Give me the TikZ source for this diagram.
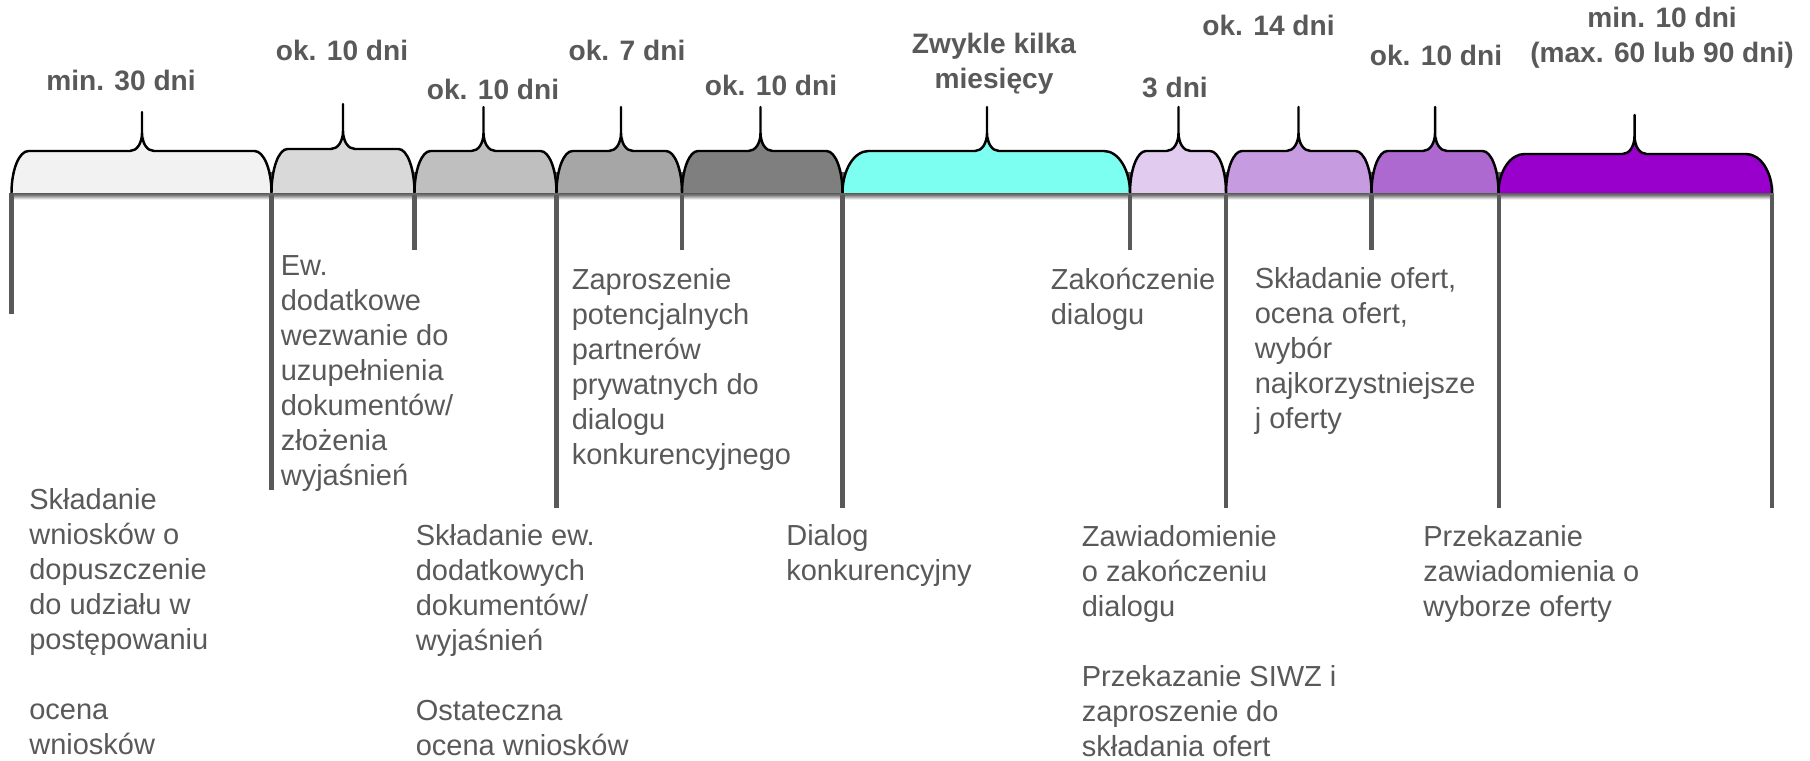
\documentclass[tikz,border=0pt]{standalone}
\usepackage{fontspec}
\setmainfont{Liberation Sans}
\usetikzlibrary{shadows}
\definecolor{text-gray}{HTML}{595959}
\definecolor{phase-1}{HTML}{F2F2F2}
\definecolor{phase-2}{HTML}{D9D9D9}
\definecolor{phase-3}{HTML}{BFBFBF}
\definecolor{phase-4}{HTML}{A6A6A6}
\definecolor{phase-5}{HTML}{7F7F7F}
\definecolor{phase-6}{HTML}{7CFFF0}
\definecolor{phase-7}{HTML}{E1CCEF}
\definecolor{phase-8}{HTML}{C79BDF}
\definecolor{phase-9}{HTML}{AD69CF}
\definecolor{phase-10}{HTML}{9900CC}

% brace box: fill, left, tip, right, top, peak, corner
\newcommand{\phase}[7]{%
  \path[phasebox, fill=#1] (#2,-3.86)
    .. controls (#2,{-3.86+0.552*((#5)+3.86)}) and ({#2+0.448*#7},#5) .. ({#2+#7},#5)
    -- ({#3-0.24},#5)
    .. controls ({#3-0.10},#5) and (#3,{(#5)+0.16}) .. (#3,{(#5)+0.36})
    -- (#3,#6) -- (#3,{(#5)+0.36})
    .. controls (#3,{(#5)+0.16}) and ({#3+0.10},#5) .. ({#3+0.24},#5)
    -- ({#4-#7},#5)
    .. controls ({#4-0.448*#7},#5) and (#4,{-3.86+0.552*((#5)+3.86)}) .. (#4,-3.86);
}

\begin{document}
\begin{tikzpicture}[
    every node/.style={text=text-gray, inner sep=0pt},
    phasebox/.style={draw=black, line width=1.4pt, line join=round,
      drop shadow={opacity=0.4, shadow xshift=1.2pt, shadow yshift=-1.2pt}},
    phaseline/.style={draw=text-gray, line width=2.3pt},
    duration/.style={font=\fontsize{16}{19.7}\selectfont\bfseries, align=center},
    stage/.style={font=\fontsize{16.5}{19.9}\selectfont, align=left, anchor=north west}]
  \useasboundingbox (0,0) rectangle (36.2,-15.22);

  % shadow under the time axis
  \shade[top color=black!75, bottom color=white] (0.23,-3.86) rectangle (35.44,-3.99);

  % boundaries
  \coordinate (m0) at (0.23,-3.86);
  \coordinate (m1) at (5.43,-3.45);
  \coordinate (m2) at (8.29,-3.45);
  \coordinate (m3) at (11.13,-3.45);
  \coordinate (m4) at (13.64,-3.45);
  \coordinate (m5) at (16.85,-3.45);
  \coordinate (m6) at (22.60,-3.45);
  \coordinate (m7) at (24.52,-3.45);
  \coordinate (m8) at (27.43,-3.45);
  \coordinate (m9) at (29.97,-3.45);
  \coordinate (m10) at (35.44,-3.86);
  \draw[phaseline] (m0) -- ++(0,-2.42);
  \draw[phaseline] (m1) -- ++(0,-6.35);
  \draw[phaseline] (m2) -- ++(0,-1.55);
  \draw[phaseline] (m3) -- ++(0,-6.71);
  \draw[phaseline] (m4) -- ++(0,-1.55);
  \draw[phaseline] (m5) -- ++(0,-6.71);
  \draw[phaseline] (m6) -- ++(0,-1.55);
  \draw[phaseline] (m7) -- ++(0,-6.71);
  \draw[phaseline] (m8) -- ++(0,-1.55);
  \draw[phaseline] (m9) -- ++(0,-6.71);
  \draw[phaseline] (m10) -- ++(0,-6.30);

  % phases
  \phase{phase-1}{0.23}{2.84}{5.43}{-3.02}{-2.24}{0.34}
  \phase{phase-2}{5.43}{6.86}{8.29}{-2.98}{-2.08}{0.32}
  \phase{phase-3}{8.29}{9.67}{11.13}{-3.02}{-2.14}{0.32}
  \phase{phase-4}{11.13}{12.42}{13.64}{-3.02}{-2.14}{0.32}
  \phase{phase-5}{13.64}{15.21}{16.85}{-3.02}{-2.14}{0.32}
  \phase{phase-6}{16.85}{19.74}{22.60}{-3.02}{-2.14}{0.52}
  \phase{phase-7}{22.60}{23.57}{24.52}{-3.02}{-2.14}{0.32}
  \phase{phase-8}{24.52}{25.97}{27.43}{-3.02}{-2.14}{0.32}
  \phase{phase-9}{27.43}{28.70}{29.97}{-3.02}{-2.14}{0.32}
  \phase{phase-10}{29.97}{32.69}{35.44}{-3.08}{-2.30}{0.52}

  % durations
  \node[duration] (d1) at (2.42,-1.60) {min. 30 dni};
  \node[duration] (d2) at (6.84,-1.00) {ok. 10 dni};
  \node[duration] (d3) at (9.86,-1.78) {ok. 10 dni};
  \node[duration] (d4) at (12.54,-1.00) {ok. 7 dni};
  \node[duration] (d5) at (15.42,-1.70) {ok. 10 dni};
  \node[duration] (d6) at (19.88,-1.27) {Zwykle kilka\\miesięcy};
  \node[duration] (d7) at (23.50,-1.75) {3 dni};
  \node[duration] (d8) at (25.37,-0.51) {ok. 14 dni};
  \node[duration] (d9) at (28.72,-1.11) {ok. 10 dni};
  \node[duration] (d10) at (33.24,-0.75) {min. 10 dni\\(max. 60 lub 90 dni)};

  % stages
  \node[stage] (s1) at (0.58,-9.76) {Składanie\\wniosków o\\dopuszczenie\\do udziału w\\postępowaniu\\[19.9pt]ocena\\wniosków};
  \node[stage] (s2) at (5.61,-5.10) {Ew.\\dodatkowe\\wezwanie do\\uzupełnienia\\dokumentów/\\złożenia\\wyjaśnień};
  \node[stage] (s3) at (8.31,-10.48) {Składanie ew.\\dodatkowych\\dokumentów/\\wyjaśnień\\[19.9pt]Ostateczna\\ocena wniosków};
  \node[stage] (s4) at (11.43,-5.36) {Zaproszenie\\potencjalnych\\partnerów\\prywatnych do\\dialogu\\konkurencyjnego};
  \node[stage] (s5) at (15.72,-10.48) {Dialog\\konkurencyjny};
  \node[stage] (s6) at (21.01,-5.36) {Zakończenie\\dialogu};
  \node[stage] (s7) at (21.63,-10.50) {Zawiadomienie\\o zakończeniu\\dialogu\\[19.9pt]Przekazanie SIWZ i\\zaproszenie do\\składania ofert};
  \node[stage] (s8) at (25.09,-5.34) {Składanie ofert,\\ocena ofert,\\wybór\\najkorzystniejsze\\j oferty};
  \node[stage] (s9) at (28.46,-10.50) {Przekazanie\\zawiadomienia o\\wyborze oferty};
\end{tikzpicture}
\end{document}
